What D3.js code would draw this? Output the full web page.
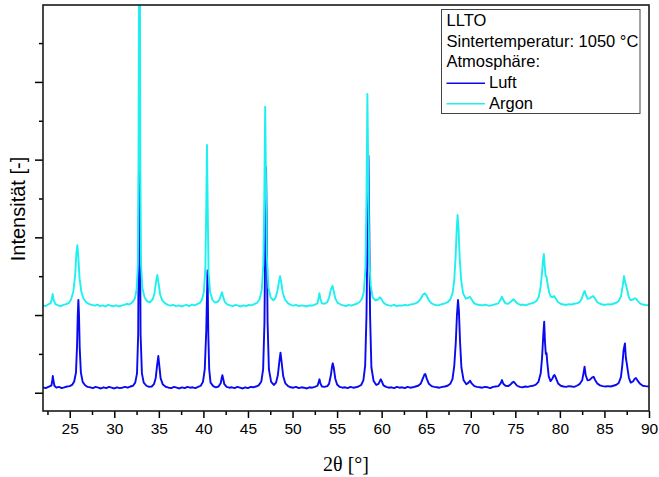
<!DOCTYPE html>
<html>
<head>
<meta charset="utf-8">
<script src="https://cdn.jsdelivr.net/npm/d3@7"></script>
<style>
  html, body { margin: 0; padding: 0; background: #fff; }
  svg { display: block; }
  text { font-family: "Liberation Sans", Arial, sans-serif; fill: #000; }
</style>
</head>
<body>
<svg id="chart" width="659" height="477"></svg>
<script>
// XRD patterns of LLTO sintered at 1050 °C: [2θ in °, intensity in counts]
const luft = [
  [22.0,140],[22.3,120],[22.6,150],[22.8,170],[22.95,190],[23.05,330],[23.1,430],[23.17,320],[23.28,180],[23.5,130],
  [23.8,150],[24.1,120],[24.4,140],[24.7,160],[25.0,170],[25.3,210],[25.5,290],[25.7,520],[25.82,1200],[25.9,2000],
  [25.97,2390],[26.04,2000],[26.12,1150],[26.25,520],[26.45,280],[26.7,200],[27.0,150],[27.3,140],[27.6,120],[27.9,150],
  [28.2,130],[28.5,110],[28.8,140],[29.1,120],[29.4,150],[29.7,130],[30.0,110],[30.3,140],[30.6,120],[30.9,130],
  [31.2,150],[31.5,130],[31.8,160],[32.1,180],[32.35,260],[32.55,500],[32.68,1500],[32.76,5000],[32.81,12000],[32.86,5000],
  [32.95,1500],[33.1,500],[33.3,260],[33.6,180],[33.9,150],[34.2,160],[34.45,220],[34.65,380],[34.8,700],[34.94,945],
  [35.06,680],[35.2,370],[35.45,210],[35.8,150],[36.1,130],[36.4,120],[36.7,150],[37.0,130],[37.3,110],[37.6,140],
  [37.9,120],[38.2,150],[38.5,130],[38.8,140],[39.1,120],[39.4,150],[39.7,180],[39.95,280],[40.15,600],[40.32,1600],
  [40.46,3150],[40.55,1500],[40.65,600],[40.8,260],[41.1,170],[41.4,140],[41.7,160],[41.95,250],[42.05,380],[42.13,450],
  [42.22,360],[42.35,220],[42.6,150],[42.9,130],[43.2,140],[43.5,120],[43.8,150],[44.1,130],[44.4,110],[44.7,140],
  [45.0,120],[45.3,150],[45.6,140],[45.9,160],[46.2,190],[46.5,290],[46.7,600],[46.85,1800],[46.95,4200],[47.03,5800],
  [47.1,4300],[47.2,1800],[47.35,600],[47.6,280],[47.9,200],[48.15,260],[48.35,450],[48.52,800],[48.65,1030],[48.78,780],
  [48.95,430],[49.2,240],[49.5,170],[49.8,140],[50.1,130],[50.4,150],[50.7,120],[51.0,140],[51.3,130],[51.6,110],
  [51.9,140],[52.2,130],[52.5,150],[52.8,180],[52.92,260],[53.02,345],[53.12,250],[53.3,160],[53.6,150],[53.9,170],
  [54.1,230],[54.3,450],[54.45,700],[54.52,757],[54.62,650],[54.8,360],[55.0,210],[55.3,150],[55.6,130],[55.9,140],
  [56.2,120],[56.5,150],[56.8,130],[57.1,140],[57.4,160],[57.7,200],[57.95,320],[58.15,700],[58.3,2000],[58.42,4300],
  [58.52,6100],[58.6,4500],[58.7,2000],[58.85,650],[59.1,300],[59.4,200],[59.65,230],[59.8,300],[59.91,345],[60.02,290],
  [60.2,190],[60.5,150],[60.8,130],[61.1,140],[61.4,120],[61.7,150],[62.0,130],[62.3,140],[62.6,120],[62.9,150],
  [63.2,130],[63.5,140],[63.8,160],[64.1,180],[64.4,240],[64.65,380],[64.8,470],[64.9,480],[65.05,370],[65.3,230],
  [65.6,170],[65.9,150],[66.2,140],[66.5,130],[66.8,150],[67.1,160],[67.4,180],[67.7,230],[67.95,350],[68.15,700],
  [68.32,1300],[68.45,2000],[68.57,2386],[68.67,2100],[68.8,1300],[68.95,650],[69.2,320],[69.5,220],[69.75,260],[69.93,309],
  [70.1,240],[70.4,170],[70.7,150],[71.0,140],[71.3,130],[71.6,150],[71.9,140],[72.2,120],[72.5,150],[72.8,160],
  [73.1,170],[73.35,240],[73.5,327],[73.65,230],[73.9,180],[74.2,170],[74.5,220],[74.7,270],[74.8,283],[74.95,250],
  [75.2,180],[75.5,150],[75.8,140],[76.1,160],[76.4,150],[76.7,170],[77.0,180],[77.3,210],[77.6,280],[77.85,500],
  [78.0,900],[78.14,1500],[78.24,1828],[78.33,1300],[78.42,1000],[78.5,1020],[78.6,750],[78.75,420],[78.95,300],[79.15,360],
  [79.3,440],[79.4,457],[79.55,380],[79.8,240],[80.1,180],[80.4,160],[80.7,150],[81.0,170],[81.3,160],[81.6,150],
  [81.9,180],[82.2,220],[82.5,320],[82.65,500],[82.77,669],[82.9,450],[83.1,320],[83.35,330],[83.6,390],[83.78,412],
  [83.95,330],[84.2,240],[84.5,190],[84.8,170],[85.1,160],[85.4,170],[85.7,160],[86.0,180],[86.3,200],[86.6,250],
  [86.85,400],[87.0,700],[87.15,1100],[87.3,1271],[87.4,900],[87.5,764],[87.6,600],[87.75,380],[87.95,260],[88.2,290],
  [88.4,360],[88.53,378],[88.7,320],[89.0,230],[89.3,180],[89.6,170],[90.0,160]
];

const argon = [
  [22.0,2250],[22.3,2230],[22.6,2280],[22.85,2300],[22.98,2400],[23.09,2540],[23.2,2380],[23.4,2280],[23.7,2250],[24.0,2230],
  [24.3,2260],[24.6,2280],[24.9,2310],[25.15,2400],[25.4,2600],[25.6,3000],[25.75,3600],[25.85,3800],[25.95,3550],[26.1,2950],
  [26.3,2600],[26.55,2420],[26.85,2330],[27.2,2280],[27.5,2260],[27.8,2240],[28.1,2270],[28.4,2230],[28.7,2250],[29.0,2220],
  [29.3,2260],[29.6,2240],[29.9,2230],[30.2,2250],[30.5,2220],[30.8,2240],[31.1,2260],[31.4,2290],[31.7,2270],[32.0,2320],
  [32.3,2420],[32.5,2650],[32.65,3300],[32.72,6000],[32.78,12000],[32.86,12000],[32.92,6000],[33.0,3300],[33.15,2700],[33.4,2450],
  [33.7,2350],[34.0,2330],[34.3,2400],[34.5,2550],[34.68,2850],[34.83,3030],[34.98,2800],[35.15,2520],[35.4,2370],[35.7,2300],
  [36.0,2260],[36.3,2240],[36.6,2260],[36.9,2230],[37.2,2250],[37.5,2220],[37.8,2240],[38.1,2260],[38.4,2230],[38.7,2270],
  [39.0,2250],[39.3,2280],[39.6,2310],[39.85,2400],[40.05,2600],[40.22,3200],[40.32,4800],[40.4,6375],[40.48,4800],[40.58,3100],
  [40.75,2600],[41.0,2400],[41.3,2320],[41.6,2340],[41.85,2420],[42.0,2540],[42.09,2584],[42.2,2480],[42.4,2340],[42.7,2270],
  [43.0,2250],[43.3,2230],[43.6,2260],[43.9,2240],[44.2,2220],[44.5,2250],[44.8,2230],[45.1,2260],[45.4,2250],[45.7,2280],
  [46.0,2310],[46.3,2400],[46.55,2650],[46.72,3300],[46.83,5000],[46.93,7360],[47.02,5500],[47.12,3500],[47.3,2700],[47.55,2450],
  [47.85,2380],[48.1,2450],[48.3,2620],[48.48,2850],[48.6,3000],[48.73,2850],[48.9,2580],[49.15,2400],[49.5,2300],[49.8,2260],
  [50.1,2240],[50.4,2260],[50.7,2230],[51.0,2250],[51.3,2240],[51.6,2220],[51.9,2250],[52.2,2240],[52.5,2270],[52.8,2300],
  [52.93,2450],[53.02,2560],[53.12,2420],[53.3,2300],[53.6,2290],[53.9,2330],[54.1,2450],[54.3,2650],[54.48,2754],[54.62,2620],
  [54.8,2430],[55.05,2320],[55.4,2270],[55.7,2250],[56.0,2230],[56.3,2260],[56.6,2240],[56.9,2270],[57.2,2290],[57.5,2330],
  [57.8,2420],[58.0,2600],[58.18,3200],[58.3,5000],[58.4,7690],[58.5,5600],[58.6,3500],[58.78,2750],[59.0,2450],[59.3,2380],
  [59.6,2400],[59.8,2456],[59.95,2420],[60.2,2320],[60.5,2270],[60.8,2250],[61.1,2240],[61.4,2260],[61.7,2230],[62.0,2250],
  [62.3,2240],[62.6,2260],[62.9,2250],[63.2,2270],[63.5,2280],[63.8,2300],[64.1,2340],[64.4,2420],[64.65,2530],[64.85,2560],
  [65.05,2500],[65.3,2380],[65.6,2300],[65.9,2270],[66.2,2250],[66.5,2260],[66.8,2280],[67.1,2300],[67.4,2330],[67.7,2400],
  [67.95,2550],[68.15,2900],[68.3,3500],[68.42,4200],[68.52,4574],[68.62,4250],[68.75,3500],[68.92,2900],[69.15,2550],[69.45,2420],
  [69.7,2440],[69.9,2471],[70.1,2400],[70.4,2300],[70.7,2270],[71.0,2260],[71.3,2250],[71.6,2270],[71.9,2250],[72.2,2240],
  [72.5,2260],[72.8,2280],[73.1,2300],[73.35,2400],[73.5,2470],[73.65,2390],[73.9,2300],[74.2,2290],[74.5,2340],[74.7,2390],
  [74.82,2404],[75.0,2350],[75.3,2290],[75.6,2260],[75.9,2270],[76.2,2250],[76.5,2280],[76.8,2300],[77.1,2320],[77.4,2370],
  [77.65,2480],[77.85,2750],[78.0,3100],[78.12,3450],[78.2,3570],[78.3,3250],[78.4,3000],[78.5,2990],[78.62,2800],[78.8,2580],
  [79.0,2470],[79.2,2460],[79.35,2489],[79.5,2440],[79.8,2330],[80.1,2290],[80.4,2270],[80.7,2260],[81.0,2280],[81.3,2270],
  [81.6,2290],[81.9,2300],[82.2,2330],[82.45,2420],[82.65,2560],[82.78,2618],[82.92,2520],[83.1,2420],[83.35,2430],[83.6,2470],
  [83.75,2489],[83.95,2420],[84.2,2330],[84.5,2290],[84.8,2270],[85.1,2260],[85.4,2280],[85.7,2270],[86.0,2290],[86.3,2310],
  [86.6,2360],[86.85,2480],[87.05,2750],[87.2,3003],[87.32,2850],[87.45,2746],[87.58,2620],[87.75,2450],[87.95,2380],[88.2,2400],
  [88.4,2430],[88.55,2420],[88.75,2360],[89.0,2300],[89.3,2270],[89.6,2260],[90.0,2250]
];

const xMajorTicks = [25, 30, 35, 40, 45, 50, 55, 60, 65, 70, 75, 80, 85, 90];
const xMinorTicks = [22.5, 27.5, 32.5, 37.5, 42.5, 47.5, 52.5, 57.5, 62.5, 67.5, 72.5, 77.5, 82.5, 87.5];
const yMajorTicks = [0, 2000, 4000, 6000, 8000];
const yMinorTicks = [1000, 3000, 5000, 7000, 9000];

const seriesNames = ["Luft", "Argon"];
const seriesColors = ["#0a0af0", "#1ef0f0"];
const legendLines = ["LLTO", "Sintertemperatur: 1050 °C", "Atmosphäre:"];

const svg = d3.select("#chart");
const plot = { left: 43, right: 649, top: 5, bottom: 411 };

const x = d3.scaleLinear().domain([22, 90]).range([plot.left, plot.right]);
const y = d3.scaleLinear().domain([-470, 9980]).range([plot.bottom, plot.top]);

svg.append("defs").append("clipPath").attr("id", "plotClip")
  .append("rect")
  .attr("x", plot.left).attr("y", plot.top)
  .attr("width", plot.right - plot.left).attr("height", plot.bottom - plot.top);

// diffraction patterns
const line = d3.line().x(d => x(d[0])).y(d => y(d[1]));
const traces = svg.append("g").attr("clip-path", "url(#plotClip)");
[luft, argon].forEach((data, i) => {
  traces.append("path")
    .datum(data)
    .attr("d", line)
    .attr("fill", "none")
    .attr("stroke", seriesColors[i])
    .attr("stroke-width", 1.9)
    .attr("stroke-linejoin", "round");
});

// x axis: major ticks with labels, minor ticks between them
const xMajor = svg.append("g")
  .attr("transform", `translate(0,${plot.bottom})`)
  .call(d3.axisBottom(x).tickValues(xMajorTicks).tickSize(7).tickPadding(5).tickFormat(d3.format("d")));
const xMinor = svg.append("g")
  .attr("transform", `translate(0,${plot.bottom})`)
  .call(d3.axisBottom(x).tickValues(xMinorTicks).tickSize(4).tickFormat(""));

// y axis: ticks only, no labels
const yMajor = svg.append("g")
  .attr("transform", `translate(${plot.left},0)`)
  .call(d3.axisLeft(y).tickValues(yMajorTicks).tickSize(8).tickFormat(""));
const yMinor = svg.append("g")
  .attr("transform", `translate(${plot.left},0)`)
  .call(d3.axisLeft(y).tickValues(yMinorTicks).tickSize(4).tickFormat(""));

[xMajor, xMinor, yMajor, yMinor].forEach(g => {
  g.select(".domain").remove();
  g.selectAll(".tick line").attr("stroke", "#000").attr("stroke-width", 1.5);
});
xMajor.selectAll(".tick text")
  .attr("font-family", "'Liberation Sans', Arial, sans-serif")
  .attr("font-size", 15.5)
  .attr("fill", "#000");

// frame
svg.append("rect")
  .attr("x", plot.left).attr("y", plot.top)
  .attr("width", plot.right - plot.left).attr("height", plot.bottom - plot.top)
  .attr("fill", "none").attr("stroke", "#1a1a1a").attr("stroke-width", 1.6);

// axis titles
svg.append("text")
  .attr("x", (plot.left + plot.right) / 2)
  .attr("y", 471)
  .attr("text-anchor", "middle")
  .style("font-family", "'Liberation Serif', 'Times New Roman', serif")
  .attr("font-size", 20)
  .text("2θ [°]");

svg.append("text")
  .attr("transform", "translate(25,209) rotate(-90)")
  .attr("text-anchor", "middle")
  .attr("font-size", 20)
  .text("Intensität [-]");

// legend
const legend = svg.append("g");
legend.append("rect")
  .attr("x", 441.5).attr("y", 9.5).attr("width", 198.5).attr("height", 104)
  .attr("fill", "#fff").attr("stroke", "#444").attr("stroke-width", 1);
const rowY = [26, 46.5, 67, 88, 108.5];
legendLines.forEach((t, i) => {
  legend.append("text").attr("x", 446.5).attr("y", rowY[i]).attr("font-size", 16.5).text(t);
});
seriesNames.forEach((name, i) => {
  const yy = rowY[3 + i];
  legend.append("line")
    .attr("x1", 446.5).attr("x2", 485).attr("y1", yy - 4.7).attr("y2", yy - 4.7)
    .attr("stroke", seriesColors[i]).attr("stroke-width", 1.5);
  legend.append("text").attr("x", 489).attr("y", yy).attr("font-size", 16.5).text(name);
});
</script>
</body>
</html>
